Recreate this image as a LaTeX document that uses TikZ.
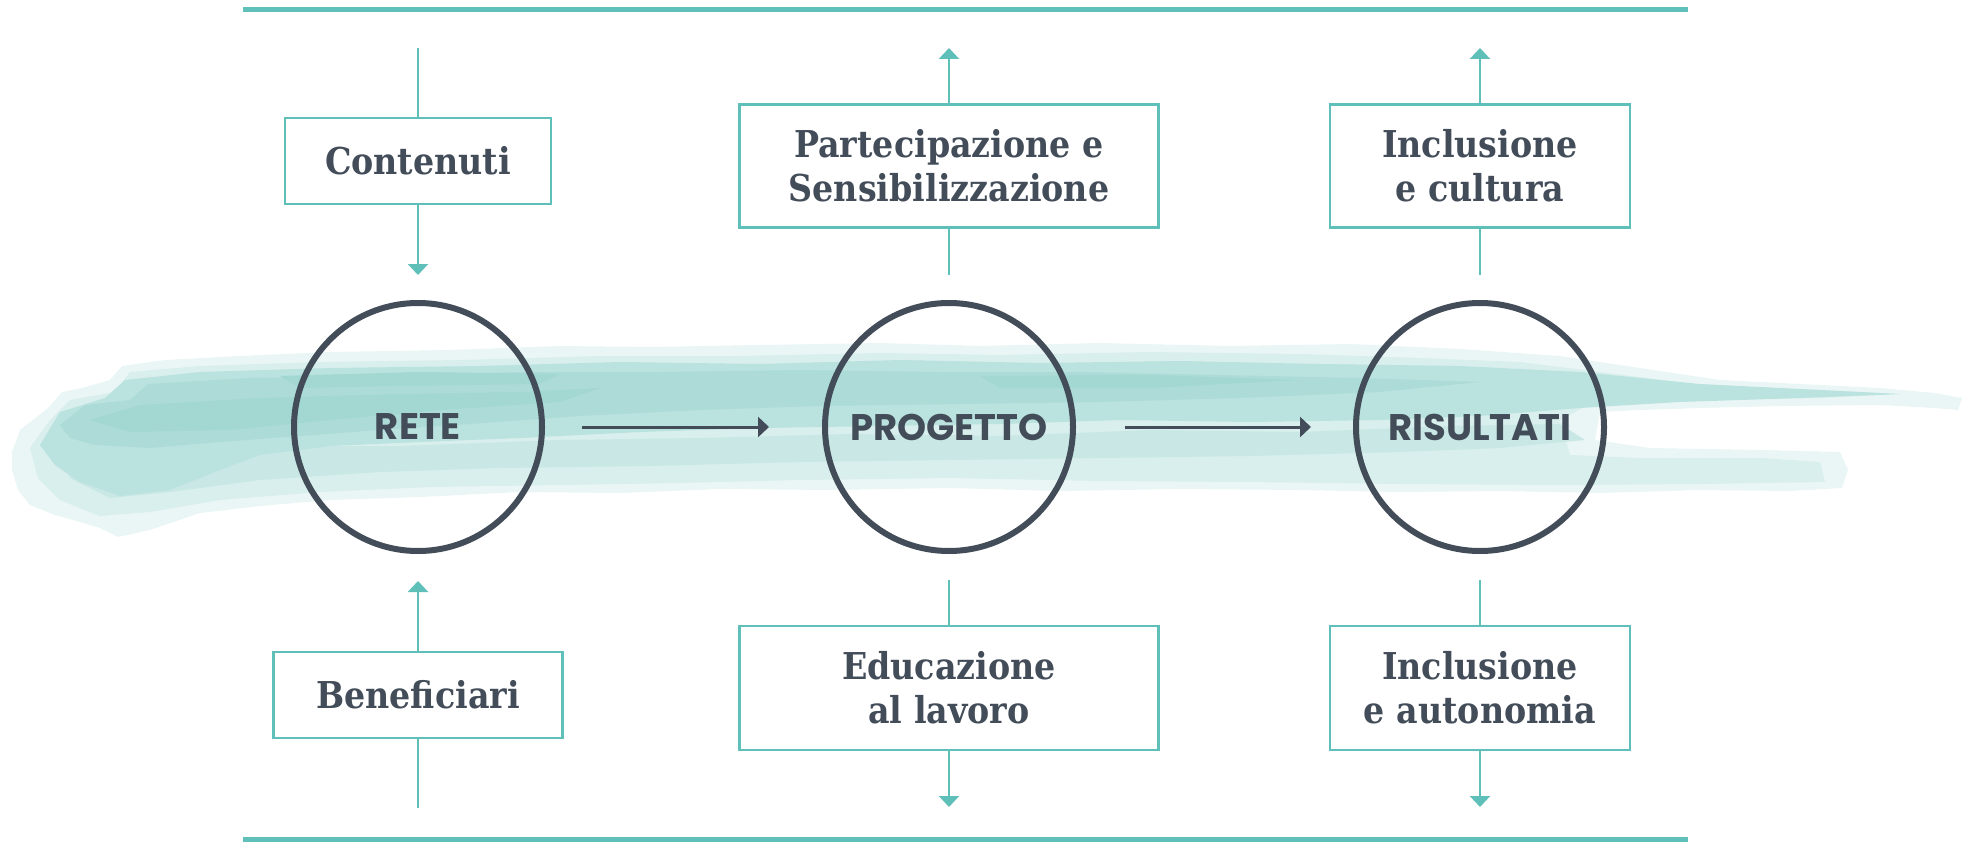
\documentclass[tikz,border=0pt]{standalone}
\usepackage{fontspec}
\usetikzlibrary{arrows.meta}
\newfontfamily\boxfont{DejaVu Serif}[FakeStretch=0.9]
\newfontfamily\circfont{Poppins}
\definecolor{lineteal}{HTML}{5FBFB9}
\definecolor{slate}{HTML}{434D59}
\definecolor{washa}{HTML}{EAF6F5}
\definecolor{washb}{HTML}{D8EFED}
\definecolor{washbc}{HTML}{C9E8E5}
\definecolor{washc}{HTML}{BAE2DF}
\definecolor{washd}{HTML}{ADDCD8}
\definecolor{washe}{HTML}{A2D7D2}

\begin{document}
\begin{tikzpicture}[x=1pt,y=-1pt,
    box/.style={draw=lineteal,line width=2.5pt,fill=white,inner sep=0pt,align=center,text=slate,
      font=\boxfont\bfseries\fontsize{37}{44}\selectfont},
    ring/.style={circle,draw=slate,line width=6pt,minimum size=248pt,inner sep=0pt,text=slate,
      font=\circfont\bfseries\fontsize{37}{40}\selectfont},
    feed/.style={draw=lineteal,line width=2.5pt},
    tip/.style={-{Triangle[length=11pt,width=20pt]}},
    flow/.style={draw=slate,line width=3pt,-{Triangle[length=11pt,width=20pt]}},
    bar/.style={draw=lineteal,line width=5pt}]
    \useasboundingbox (0,0) rectangle (1968,843);

    % brush stroke
    \fill[washa] (12,452) -- (20,430) -- (48,408) -- (62,392) -- (82,388) -- (110,380) -- (122,366)
      -- (165,360) -- (240,356) -- (330,352) -- (450,350) -- (560,346) -- (650,347) -- (760,345)
      -- (880,343) -- (980,346) -- (1100,343) -- (1230,346) -- (1350,344) -- (1460,349) -- (1560,356)
      -- (1640,368) -- (1720,380) -- (1800,384) -- (1880,388) -- (1935,393) -- (1962,398) -- (1958,410)
      -- (1935,408) -- (1880,405) -- (1780,406) -- (1700,408) -- (1640,410) -- (1600,412) -- (1595,440)
      -- (1650,448) -- (1760,450) -- (1840,452) -- (1848,470) -- (1842,488) -- (1790,491) -- (1700,490)
      -- (1600,493) -- (1500,491) -- (1400,492) -- (1300,490) -- (1180,489) -- (1060,491) -- (950,488)
      -- (830,490) -- (720,489) -- (620,493) -- (520,492) -- (420,497) -- (330,500) -- (260,506)
      -- (200,513) -- (150,530) -- (118,537) -- (100,528) -- (80,522) -- (55,515) -- (30,505)
      -- (18,490) -- (12,470) -- cycle;
    \fill[washb] (30,448) -- (50,420) -- (70,400) -- (115,392) -- (130,372) -- (200,366) -- (320,362)
      -- (460,360) -- (600,356) -- (740,356) -- (880,353) -- (1000,355) -- (1150,352) -- (1300,354)
      -- (1420,358) -- (1520,362) -- (1600,372) -- (1700,385) -- (1820,390) -- (1900,394) -- (1820,398)
      -- (1700,400) -- (1590,404) -- (1560,420) -- (1570,455) -- (1640,458) -- (1760,458) -- (1820,462)
      -- (1825,482) -- (1700,484) -- (1560,485) -- (1400,484) -- (1250,482) -- (1100,481) -- (950,478)
      -- (800,480) -- (680,483) -- (560,485) -- (430,487) -- (320,492) -- (220,500) -- (150,512)
      -- (100,516) -- (60,500) -- (38,478) -- cycle;
    \fill[washbc] (60,450) -- (200,446) -- (400,446) -- (560,440) -- (700,438) -- (850,434)
      -- (1000,436) -- (1150,430) -- (1300,432) -- (1450,426) -- (1560,424) -- (1585,440)
      -- (1500,448) -- (1400,452) -- (1250,456) -- (1100,458) -- (950,460) -- (800,462) -- (650,466)
      -- (500,468) -- (380,472) -- (260,480) -- (170,492) -- (110,498) -- (70,478) -- cycle;
    \fill[washc] (40,445) -- (60,412) -- (105,398) -- (125,380) -- (200,372) -- (330,368) -- (480,366)
      -- (620,362) -- (760,364) -- (900,360) -- (1040,363) -- (1180,361) -- (1320,364) -- (1460,366)
      -- (1580,372) -- (1700,384) -- (1820,390) -- (1900,394) -- (1800,398) -- (1680,402) -- (1580,408)
      -- (1480,416) -- (1380,420) -- (1250,422) -- (1120,420) -- (1000,424) -- (880,426) -- (760,428)
      -- (640,432) -- (520,438) -- (420,442) -- (330,446) -- (260,455) -- (215,472) -- (170,490)
      -- (120,496) -- (80,482) -- (55,465) -- cycle;
    \fill[washd] (60,425) -- (85,405) -- (130,400) -- (148,384) -- (250,378) -- (380,376) -- (520,372)
      -- (660,372) -- (800,370) -- (940,372) -- (1080,372) -- (1220,375) -- (1360,378) -- (1480,382)
      -- (1380,392) -- (1240,398) -- (1100,402) -- (960,404) -- (820,406) -- (700,410) -- (580,416)
      -- (470,424) -- (380,430) -- (300,436) -- (220,442) -- (150,448) -- (95,445) -- (70,438) -- cycle;
    \fill[washe] (90,420) -- (140,405) -- (260,398) -- (400,394) -- (520,392) -- (600,388) -- (560,402)
      -- (440,410) -- (330,420) -- (230,430) -- (130,432) -- cycle;
    \fill[washe] (280,376) -- (420,372) -- (560,374) -- (540,384) -- (400,386) -- (300,388) -- cycle;
    \fill[washe] (980,376) -- (1150,375) -- (1300,380) -- (1150,388) -- (1000,388) -- cycle;

    % frame bars
    \path[bar] (243,10) -- (1688,10);
    \path[bar] (243,839) -- (1688,839);

    % circles
    \node[ring] (rete) at (418,427) {RETE};
    \node[ring] (progetto) at (949,427) {PROGETTO};
    \node[ring] (risultati) at (1480,427) {RISULTATI};
    \path[flow,shorten <=37pt,shorten >=53pt] (rete) -- (progetto);
    \path[flow,shorten <=49pt,shorten >=42pt] (progetto) -- (risultati);

    % top row
    \node[box,minimum width=266pt,minimum height=86pt] (contenuti) at (418,161) {Contenuti};
    \node[box,minimum width=419pt,minimum height=123pt] (partecipazione) at (949,166) {Partecipazione e\\Sensibilizzazione};
    \node[box,minimum width=300pt,minimum height=123pt] (cultura) at (1480,166) {Inclusione\\e cultura};
    \coordinate (contenutiin) at (418,48);
    \coordinate (contenutiout) at (418,275);
    \coordinate (partecipazionein) at (949,275);
    \coordinate (partecipazioneout) at (949,48);
    \coordinate (culturain) at (1480,275);
    \coordinate (culturaout) at (1480,48);
    \path[feed] (contenutiin) -- (contenuti);
    \path[feed,tip] (contenuti) -- (contenutiout);
    \path[feed] (partecipazionein) -- (partecipazione);
    \path[feed,tip] (partecipazione) -- (partecipazioneout);
    \path[feed] (culturain) -- (cultura);
    \path[feed,tip] (cultura) -- (culturaout);

    % bottom row
    \node[box,minimum width=289pt,minimum height=86pt] (beneficiari) at (418,695) {Beneficiari};
    \node[box,minimum width=419pt,minimum height=124pt] (educazione) at (949,688) {Educazione\\al lavoro};
    \node[box,minimum width=300pt,minimum height=124pt] (autonomia) at (1480,688) {Inclusione\\e autonomia};
    \coordinate (beneficiariin) at (418,808);
    \coordinate (beneficiariout) at (418,581);
    \coordinate (educazionein) at (949,580);
    \coordinate (educazioneout) at (949,807);
    \coordinate (autonomiain) at (1480,580);
    \coordinate (autonomiaout) at (1480,807);
    \path[feed] (beneficiariin) -- (beneficiari);
    \path[feed,tip] (beneficiari) -- (beneficiariout);
    \path[feed] (educazionein) -- (educazione);
    \path[feed,tip] (educazione) -- (educazioneout);
    \path[feed] (autonomiain) -- (autonomia);
    \path[feed,tip] (autonomia) -- (autonomiaout);
\end{tikzpicture}
\end{document}
